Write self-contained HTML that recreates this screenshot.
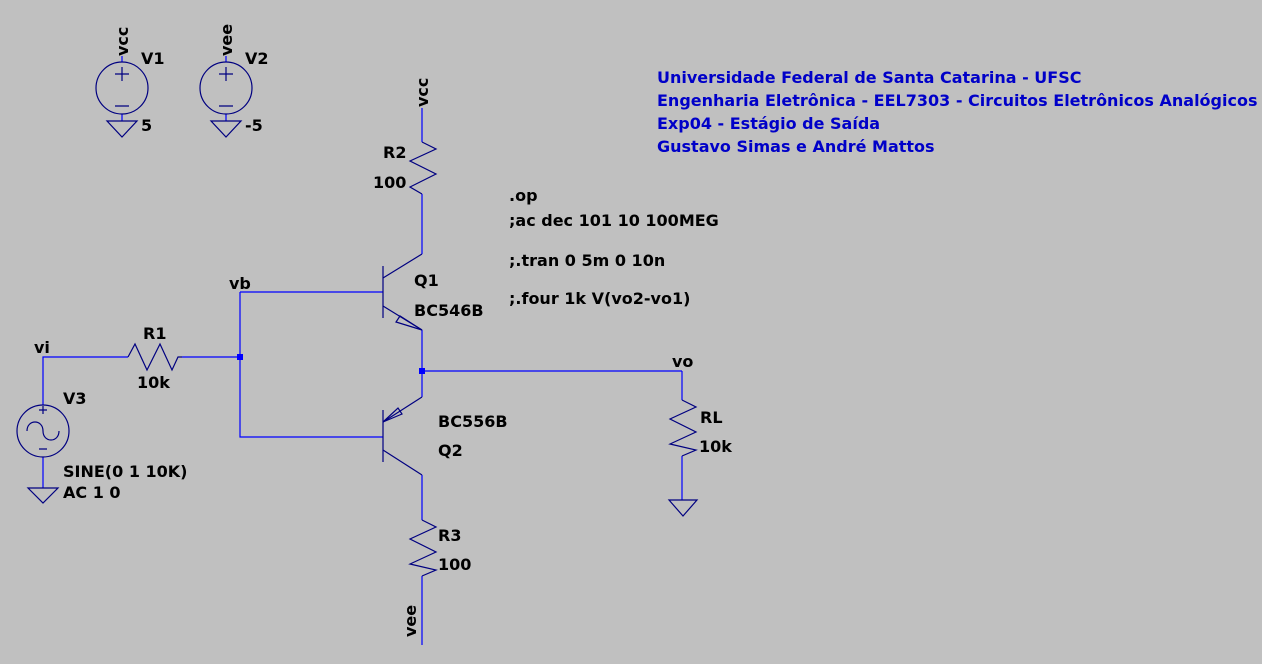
<!DOCTYPE html>
<html><head><style>
html,body{margin:0;padding:0;background:#c0c0c0;}
svg{display:block}
text{font-family:"DejaVu Sans","Liberation Sans",sans-serif;font-weight:bold;font-size:16px;fill:#000}
.b{fill:#0000c8}
</style></head><body>
<svg width="1262" height="664" viewBox="0 0 1262 664">
<g stroke="#0000ff" stroke-width="1.2" fill="none">
<line x1="422" y1="108" x2="422" y2="142"/>
<line x1="422" y1="194" x2="422" y2="254"/>
<polyline points="240,292 383,292"/>
<polyline points="240,292 240,437 383,437"/>
<line x1="422" y1="330" x2="422" y2="397"/>
<line x1="422" y1="371" x2="682" y2="371"/>
<line x1="682" y1="371" x2="682" y2="400"/>
<line x1="682" y1="456" x2="682" y2="500"/>
<line x1="422" y1="475" x2="422" y2="520"/>
<line x1="422" y1="576" x2="422" y2="645"/>
<polyline points="43,405 43,357 128,357"/>
<line x1="182" y1="357" x2="240" y2="357"/>
<line x1="43" y1="457" x2="43" y2="488"/>
<line x1="122" y1="56" x2="122" y2="62"/>
<line x1="226" y1="56" x2="226" y2="62"/>
<line x1="122" y1="114" x2="122" y2="121"/>
<line x1="226" y1="114" x2="226" y2="121"/>
</g>
<g fill="#0000ff">
<rect x="237" y="354" width="6" height="6"/>
<rect x="419" y="368" width="6" height="6"/>
</g>
<g stroke="#000080" stroke-width="1.2" fill="none">
<circle cx="122" cy="88" r="26"/>
<circle cx="226" cy="88" r="26"/>
<path d="M115 74h14M122 67v14M115 106h14"/>
<path d="M219 74h14M226 67v14M219 106h14"/>
<path d="M107 121h30l-15 16z"/>
<path d="M211 121h30l-15 16z"/>
<circle cx="43" cy="431" r="26"/>
<path d="M39 410h8M43 406v8M39 449h8"/>
<path d="M27 431c0-12 16-12 16 0s16 12 16 0"/>
<path d="M28 488h30l-15 15z"/>
<polyline points="422,142 436,149 410,161 436,174 410,187 422,194"/>
<polyline points="422,520 436,527 410,539 436,552 410,564 436,570 422,576"/>
<polyline points="682,400 696,407 670,419 696,432 670,444 696,450 682,456"/>
<polyline points="128,357 135,344 147,370 160,344 172,370 178,357 182,357"/>
<path d="M669 500h28l-14 16z"/>
<line x1="383" y1="266" x2="383" y2="318"/>
<line x1="383" y1="278" x2="422" y2="254"/>
<line x1="383" y1="306" x2="422" y2="330"/>
<path d="M422 330 L400 316 L396 322 Z"/>
<line x1="383" y1="410" x2="383" y2="462"/>
<line x1="422" y1="397" x2="383" y2="422"/>
<line x1="383" y1="450" x2="422" y2="475"/>
<path d="M383 422 L398 408 L402 414 Z"/>
</g>
<text transform="translate(128,56) rotate(-90)">vcc</text>
<text transform="translate(232,56) rotate(-90)">vee</text>
<text transform="translate(428,107) rotate(-90)">vcc</text>
<text transform="translate(416,637) rotate(-90)">vee</text>
<text x="141" y="64">V1</text>
<text x="141" y="131">5</text>
<text x="245" y="64">V2</text>
<text x="245" y="131">-5</text>
<text x="383" y="158">R2</text>
<text x="373" y="188">100</text>
<text x="229" y="289">vb</text>
<text x="34" y="353">vi</text>
<text x="672" y="367">vo</text>
<text x="143" y="339">R1</text>
<text x="137" y="388">10k</text>
<text x="63" y="404">V3</text>
<text x="63" y="477">SINE(0 1 10K)</text>
<text x="63" y="498">AC 1 0</text>
<text x="414" y="286">Q1</text>
<text x="414" y="316">BC546B</text>
<text x="438" y="427">BC556B</text>
<text x="438" y="456">Q2</text>
<text x="438" y="541">R3</text>
<text x="438" y="570">100</text>
<text x="700" y="423">RL</text>
<text x="699" y="452">10k</text>
<text x="509" y="201">.op</text>
<text x="509" y="226">;ac dec 101 10 100MEG</text>
<text x="509" y="266">;.tran 0 5m 0 10n</text>
<text x="509" y="304">;.four 1k V(vo2-vo1)</text>
<text class="b" x="657" y="83">Universidade Federal de Santa Catarina - UFSC</text>
<text class="b" x="657" y="106">Engenharia Eletrônica - EEL7303 - Circuitos Eletrônicos Analógicos</text>
<text class="b" x="657" y="129">Exp04 - Estágio de Saída</text>
<text class="b" x="657" y="152">Gustavo Simas e André Mattos</text>
</svg>
</body></html>
